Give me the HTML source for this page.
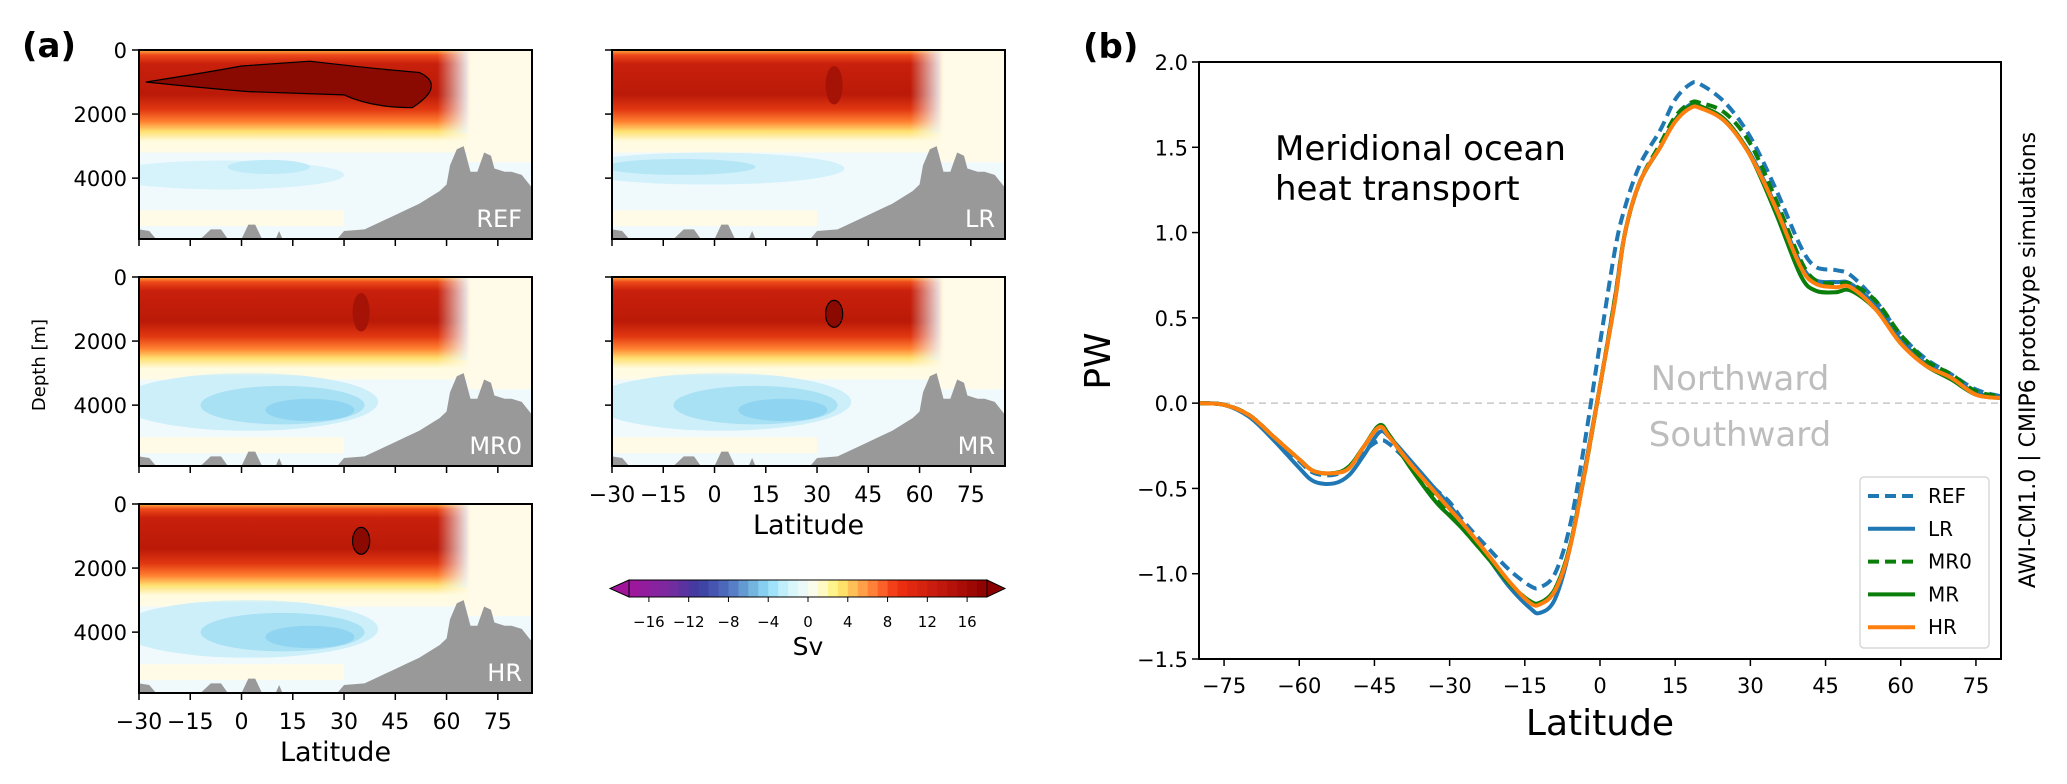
<!DOCTYPE html>
<html><head><meta charset="utf-8">
<style>
html,body{margin:0;padding:0;background:#fff;overflow:hidden;width:2067px;height:784px;}
svg{display:block;font-family:"DejaVu Sans","Liberation Sans",sans-serif;}
</style></head>
<body>
<svg id="fig" width="2067" height="784" viewBox="0 0 2067 784" xmlns="http://www.w3.org/2000/svg">
<defs>
<linearGradient id="redgrad" x1="0" y1="0" x2="0" y2="1">
<stop offset="0" stop-color="#ffb040"/>
<stop offset="0.05" stop-color="#ee4a1a"/>
<stop offset="0.14" stop-color="#c8200c"/>
<stop offset="0.45" stop-color="#bb1a08"/>
<stop offset="0.6" stop-color="#e23812"/>
<stop offset="0.72" stop-color="#ff8030"/>
<stop offset="0.82" stop-color="#ffe070"/>
<stop offset="0.92" stop-color="#fffbe0"/>
<stop offset="1" stop-color="#fffbe0" stop-opacity="0"/>
</linearGradient>
<linearGradient id="fadeR" x1="0" y1="0" x2="1" y2="0">
<stop offset="0" stop-color="#fff"/>
<stop offset="0.9" stop-color="#fff"/>
<stop offset="1" stop-color="#fff" stop-opacity="0"/>
</linearGradient>
</defs>
<g id="panelA"></g>
<g id="panelB"></g>
</svg>
<script>
// ---------- Panel (b) data ----------
const lats = [-80,-75,-70,-65,-60,-57,-53,-50,-47,-44,-42,-38,-33,-30,-27,-22,-18,-14,-12,-9,-6,-3,0,3,5,8,12,15,18,20,25,30,35,40,43,47,50,55,60,65,70,75,80];
const refVals = [0,-0.01,-0.07,-0.2,-0.34,-0.41,-0.42,-0.37,-0.28,-0.22,-0.24,-0.35,-0.5,-0.58,-0.7,-0.86,-0.98,-1.07,-1.08,-1.0,-0.72,-0.22,0.35,0.9,1.15,1.4,1.6,1.78,1.87,1.87,1.76,1.56,1.26,0.92,0.8,0.78,0.75,0.6,0.4,0.26,0.17,0.08,0.04];
const lrVals  = [0,-0.01,-0.08,-0.22,-0.38,-0.46,-0.47,-0.42,-0.3,-0.17,-0.2,-0.33,-0.5,-0.6,-0.72,-0.92,-1.08,-1.2,-1.23,-1.15,-0.85,-0.38,0.1,0.62,1.0,1.3,1.5,1.66,1.75,1.74,1.65,1.46,1.16,0.82,0.72,0.71,0.7,0.57,0.37,0.23,0.15,0.06,0.03];
const mr0Vals = [0,-0.01,-0.07,-0.2,-0.33,-0.4,-0.41,-0.37,-0.25,-0.13,-0.19,-0.36,-0.55,-0.65,-0.75,-0.92,-1.06,-1.16,-1.17,-1.09,-0.84,-0.4,0.1,0.62,1.0,1.3,1.52,1.68,1.76,1.76,1.7,1.52,1.2,0.84,0.72,0.7,0.7,0.6,0.4,0.25,0.17,0.07,0.04];
const mrVals  = [0,-0.01,-0.07,-0.2,-0.33,-0.4,-0.41,-0.37,-0.25,-0.13,-0.19,-0.37,-0.57,-0.66,-0.75,-0.92,-1.06,-1.16,-1.17,-1.09,-0.84,-0.4,0.1,0.6,1.0,1.3,1.5,1.66,1.74,1.74,1.66,1.45,1.12,0.75,0.66,0.65,0.66,0.55,0.35,0.22,0.14,0.05,0.03];
const hrVals  = [0,-0.01,-0.07,-0.2,-0.33,-0.4,-0.41,-0.38,-0.25,-0.14,-0.2,-0.35,-0.52,-0.62,-0.72,-0.9,-1.05,-1.17,-1.18,-1.1,-0.85,-0.4,0.1,0.6,1.0,1.3,1.5,1.65,1.73,1.73,1.65,1.45,1.15,0.8,0.7,0.68,0.68,0.55,0.35,0.22,0.15,0.05,0.03];
const seriesNames = ['REF','LR','MR0','MR','HR'];
const xTicksB = [-75,-60,-45,-30,-15,0,15,30,45,60,75];
const yTicksB = [-1.5,-1.0,-0.5,0.0,0.5,1.0,1.5,2.0];
// ---------- Panel (a) data ----------
const depthTicks = [0,2000,4000];
const latTicksA = [-30,-15,0,15,30,45,60,75];
const cbarTicks = [-16,-12,-8,-4,0,4,8,12,16];

const NS='http://www.w3.org/2000/svg';
function el(tag, attrs, parent){const e=document.createElementNS(NS,tag);for(const k in attrs)e.setAttribute(k,attrs[k]);if(parent)parent.appendChild(e);return e;}
function txt(str, attrs, parent){const e=el('text',attrs,parent);e.textContent=str;return e;}

// ===== Panel B =====
const gB=document.getElementById('panelB');
const bL=1199,bR=2001,bT=62,bBt=659;
const bx=v=>bL+(v+80)/160*(bR-bL);
const by=v=>bT+(2.0-v)/3.5*(bBt-bT);
const pbA=el('rect',{x:bL,y:bT,width:bR-bL,height:bBt-bT,fill:'#fff'},gB);


const zl=el('line',{x1:bL,x2:bR,y1:by(0),y2:by(0),stroke:'#c8c8c8','stroke-width':1.5,'stroke-dasharray':'7,5'},gB);


const nw=txt('Northward',{x:1740,y:390,'font-size':34,fill:'#bdbdbd','text-anchor':'middle'},gB);


const sw=txt('Southward',{x:1740,y:446,'font-size':34,fill:'#bdbdbd','text-anchor':'middle'},gB);


const ttl1=txt('Meridional ocean',{x:1275,y:160,'font-size':34,fill:'#000'},gB);


const ttl2=txt('heat transport',{x:1275,y:200,'font-size':34,fill:'#000'},gB);



function smoothPath(xs, ys){
  const p=xs.map((x,i)=>[bx(x),by(ys[i])]);
  let d='M'+p[0][0].toFixed(1)+','+p[0][1].toFixed(1);
  for(let i=0;i<p.length-1;i++){
    const p0=p[i-1]||p[i],p1=p[i],p2=p[i+1],p3=p[i+2]||p2;
    const c1=[p1[0]+(p2[0]-p0[0])/6,p1[1]+(p2[1]-p0[1])/6];
    const c2=[p2[0]-(p3[0]-p1[0])/6,p2[1]-(p3[1]-p1[1])/6];
    d+='C'+c1[0].toFixed(1)+','+c1[1].toFixed(1)+' '+c2[0].toFixed(1)+','+c2[1].toFixed(1)+' '+p2[0].toFixed(1)+','+p2[1].toFixed(1);
  }
  return d;
}
const styles=[{c:'#1f77b4',dash:'11,6'},{c:'#1f77b4',dash:''},{c:'#0a7d0a',dash:'11,6'},{c:'#0a7d0a',dash:''},{c:'#ff7f0e',dash:''}];
const allVals=[refVals,lrVals,mr0Vals,mrVals,hrVals];
const clipB=el('clipPath',{id:'clipB'},gB);el('rect',{x:bL,y:bT,width:bR-bL,height:bBt-bT},clipB);
const linesG=el('g',{'clip-path':'url(#clipB)'},gB);
allVals.forEach((vals,i)=>{
  const pth=el('path',{d:smoothPath(lats,vals),fill:'none',stroke:styles[i].c,'stroke-width':4,'stroke-dasharray':styles[i].dash,'stroke-linejoin':'round'},linesG);
  
  
});
const frameB=el('rect',{x:bL,y:bT,width:bR-bL,height:bBt-bT,fill:'none',stroke:'#000','stroke-width':2},gB);


xTicksB.forEach(t=>{
  el('line',{x1:bx(t),x2:bx(t),y1:bBt,y2:bBt+7,stroke:'#000','stroke-width':1.5},gB);
  const l=txt(t<0?'\u2212'+(-t):String(t),{x:bx(t),y:693,'font-size':21,'text-anchor':'middle'},gB);
  
  
});
yTicksB.forEach(t=>{
  el('line',{x1:bL-7,x2:bL,y1:by(t),y2:by(t),stroke:'#000','stroke-width':1.5},gB);
  const s=(t<0?'\u2212':'')+Math.abs(t).toFixed(1);
  const l=txt(s,{x:bL-11,y:by(t)+8,'font-size':21,'text-anchor':'end'},gB);
  
  
});
const xlB=txt('Latitude',{x:1600,y:735,'font-size':36,'text-anchor':'middle'},gB);


const ylB=txt('PW',{x:0,y:0,'font-size':36,'text-anchor':'middle',transform:'translate(1110,361) rotate(-90)'},gB);


const side=txt('AWI-CM1.0 | CMIP6 prototype simulations',{x:0,y:0,'font-size':22,'text-anchor':'middle',transform:'translate(2035,360) rotate(-90)'},gB);


const lab=txt('(b)',{x:1083,y:58,'font-size':34,'font-weight':'bold'},gB);


// legend
const leg=el('g',{},gB);


el('rect',{x:1860,y:477,width:129,height:171,rx:4,fill:'#fff','fill-opacity':0.85,stroke:'#d8d8d8','stroke-width':1.5},leg);
seriesNames.forEach((n,i)=>{
  const ey=496+i*32.8;
  const g=el('g',{},leg);
  
  
  el('line',{x1:1868,x2:1915,y1:ey,y2:ey,stroke:styles[i].c,'stroke-width':4,'stroke-dasharray':styles[i].dash},g);
  txt(n,{x:1928,y:ey+7,'font-size':20},g);
});

// ===== Panel A =====
const gA=document.getElementById('panelA');
const PW_=393, PH=189, DMAX=5900;
const panels=[
 {n:'REF',x:139,y:50,yl:true,xl:false},
 {n:'LR',x:612,y:50,yl:false,xl:false},
 {n:'MR0',x:139,y:277,yl:true,xl:false},
 {n:'MR',x:612,y:277,yl:false,xl:true},
 {n:'HR',x:139,y:504,yl:true,xl:true}];
const topoMain=[[28,5900],[30,5650],[36,5600],[40,5400],[44,5200],[48,5000],[52,4800],[55,4600],[58,4400],[60,4200],[61,3600],[63,3100],[65,3000],[66,3400],[67,3800],[69,3800],[71,3200],[73,3300],[74,3700],[77,3800],[79,3800],[82,3900],[85,4300],[85,5900]];
const seamounts=[[[-30,5900],[-30,5600],[-27,5650],[-25,5900]],[[-12,5900],[-9,5600],[-6,5600],[-4,5900]],[[0,5900],[2,5450],[4,5450],[6,5900]],[[10,5900],[11,5650],[12,5900]]];
panels.forEach((p,pi)=>{
  const X=v=>p.x+(v+30)/115*PW_;
  const Y=d=>p.y+d/DMAX*PH;
  const R=d=>d/DMAX*PH;
  const L=v=>v/115*PW_;
  const g=el('g',{},gA);
  
  
  const cid='clipA'+pi;
  const cp=el('clipPath',{id:cid},g);el('rect',{x:p.x,y:p.y,width:PW_,height:PH},cp);
  const inner=el('g',{'clip-path':'url(#'+cid+')'},g);
  el('rect',{x:p.x,y:p.y,width:PW_,height:PH,fill:'#f0fafd'},inner);
  el('rect',{x:X(-30),y:Y(2600),width:X(85)-X(-30),height:R(600),fill:'#fffbe4'},inner);
  el('rect',{x:X(-30),y:Y(5000),width:X(30)-X(-30),height:R(500),fill:'#fffbe6'},inner);
  el('rect',{x:X(66),y:Y(0),width:X(85)-X(66),height:R(3500),fill:'#fffbe8'},inner);
  if(p.n==='REF'){
    el('ellipse',{cx:X(-5),cy:Y(3900),rx:L(35),ry:R(450),fill:'#d6f2fb'},inner);
    el('ellipse',{cx:X(8),cy:Y(3650),rx:L(12),ry:R(220),fill:'#bfeaf8'},inner);
  } else if(p.n==='LR'){
    el('ellipse',{cx:X(-2),cy:Y(3700),rx:L(40),ry:R(500),fill:'#d2f1fb'},inner);
    el('ellipse',{cx:X(-10),cy:Y(3650),rx:L(22),ry:R(250),fill:'#b5e6f6'},inner);
  } else {
    el('ellipse',{cx:X(2),cy:Y(3900),rx:L(38),ry:R(900),fill:'#cdeffa'},inner);
    el('ellipse',{cx:X(12),cy:Y(4000),rx:L(24),ry:R(600),fill:'#a8e0f4'},inner);
    el('ellipse',{cx:X(20),cy:Y(4150),rx:L(13),ry:R(350),fill:'#8fd4f0'},inner);
  }
  const red=el('g',{},inner);
  const mid='maskA'+pi;
  const m=el('mask',{id:mid},g);
  el('rect',{x:X(-30),y:p.y,width:X(67)-X(-30),height:PH,fill:'url(#fadeR)'},m);
  el('rect',{x:X(-30),y:Y(0),width:X(67)-X(-30),height:R(3100),fill:'url(#redgrad)',mask:'url(#'+mid+')'},red);
  if(p.n==='REF'){
    el('path',{d:'M'+X(-28)+','+Y(1000)+' Q'+X(-10)+','+Y(700)+' '+X(0)+','+Y(500)+' L'+X(20)+','+Y(350)+' Q'+X(40)+','+Y(600)+' '+X(52)+','+Y(700)+' Q'+X(60)+','+Y(1100)+' '+X(50)+','+Y(1800)+' Q'+X(38)+','+Y(1800)+' '+X(30)+','+Y(1400)+' L'+X(2)+','+Y(1300)+' Q'+X(-10)+','+Y(1200)+' '+X(-28)+','+Y(1000)+'Z',fill:'#8a0a02',stroke:'#000','stroke-width':1.2},red);
  } else if(p.n==='MR'||p.n==='HR'){
    el('ellipse',{cx:X(35),cy:Y(1150),rx:L(2.5),ry:R(420),fill:'#8a0a02',stroke:'#000','stroke-width':1.2},red);
  } else {
    el('ellipse',{cx:X(35),cy:Y(1100),rx:L(2.5),ry:R(600),fill:'#a51206'},red);
  }
  const pts=topoMain.map(q=>X(q[0])+','+Y(q[1])).join(' ');
  const tp=el('polygon',{points:pts,fill:'#999'},inner);
  
  
  seamounts.forEach(sm=>{el('polygon',{points:sm.map(q=>X(q[0])+','+Y(q[1])).join(' '),fill:'#999'},inner);});
  el('rect',{x:p.x,y:p.y,width:PW_,height:PH,fill:'none',stroke:'#000','stroke-width':2},g);
  const nl=txt(p.n,{x:p.x+PW_-10,y:p.y+PH-12,'font-size':24,fill:'#fff','text-anchor':'end'},g);
  
  
  depthTicks.forEach(d=>{
    el('line',{x1:p.x-7,x2:p.x,y1:Y(d),y2:Y(d),stroke:'#000','stroke-width':1.5},g);
    if(p.yl){
      const l=txt(String(d),{x:p.x-12,y:Y(d)+8,'font-size':21,'text-anchor':'end'},g);
      
      
    }
  });
  latTicksA.forEach(t=>{
    el('line',{x1:X(t),x2:X(t),y1:p.y+PH,y2:p.y+PH+7,stroke:'#000','stroke-width':1.5},g);
    if(p.xl){
      const l=txt(t<0?'\u2212'+(-t):String(t),{x:X(t),y:p.y+PH+36,'font-size':22,'text-anchor':'middle'},g);
      
      
    }
  });
  if(p.xl){
    const xt=txt('Latitude',{x:p.x+PW_/2,y:p.y+PH+68,'font-size':27,'text-anchor':'middle'},g);
    
    
  }
});
const dl=txt('Depth [m]',{x:0,y:0,'font-size':18,'text-anchor':'middle',transform:'translate(45,365) rotate(-90)'},gA);


const la=txt('(a)',{x:22,y:57,'font-size':34,'font-weight':'bold'},gA);



// colorbar
const cb=el('g',{},gA);


const cx=v=>629+(v+18)/36*(987-629);
const stops=[[-18,[160,20,154]],[-14,[122,42,160]],[-11,[59,60,160]],[-8,[80,112,192]],[-6,[106,168,216]],[-4,[144,220,248]],[-2,[208,244,252]],[0,[244,252,248]],[1,[255,253,224]],[3,[255,240,112]],[5,[255,176,80]],[7,[255,112,48]],[9,[240,48,16]],[12,[208,32,16]],[15,[176,16,8]],[18,[138,0,0]]];
function cmap(v){for(let i=0;i<stops.length-1;i++){const a=stops[i],b=stops[i+1];if(v>=a[0]&&v<=b[0]){const f=(v-a[0])/(b[0]-a[0]);return 'rgb('+a[1].map((c,k)=>Math.round(c+(b[1][k]-c)*f)).join(',')+')';}}return 'rgb(138,0,0)';}
for(let v=-18;v<18;v++){el('rect',{x:cx(v),y:580,width:cx(v+1)-cx(v)+0.5,height:17,fill:cmap(v+0.5)},cb);}
el('polygon',{points:'629,580 610,588.5 629,597',fill:cmap(-18),stroke:'#000','stroke-width':1},cb);
el('polygon',{points:'987,580 1005,588.5 987,597',fill:cmap(18),stroke:'#000','stroke-width':1},cb);
el('rect',{x:629,y:580,width:358,height:17,fill:'none',stroke:'#000','stroke-width':1},cb);
cbarTicks.forEach(t=>{
  el('line',{x1:cx(t),x2:cx(t),y1:597,y2:602,stroke:'#000'},cb);
  const l=txt(t<0?'\u2212'+(-t):String(t),{x:cx(t),y:627,'font-size':15,'text-anchor':'middle'},cb);
  
  
});
const sv=txt('Sv',{x:808,y:655,'font-size':25,'text-anchor':'middle'},cb);


</script>
</body></html>
